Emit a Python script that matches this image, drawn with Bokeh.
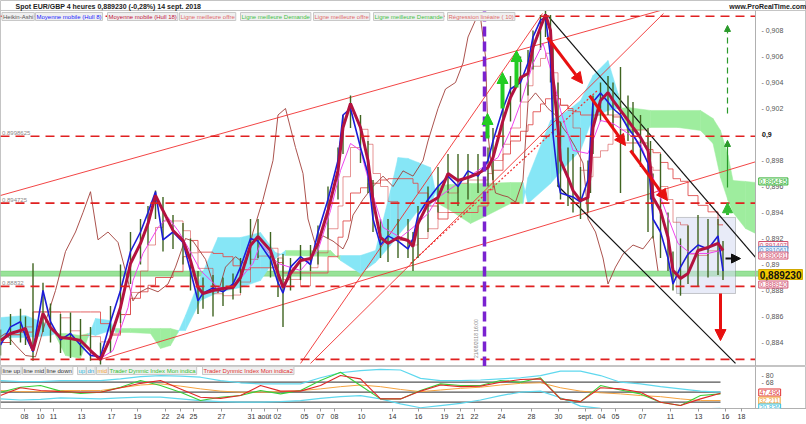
import numpy as np
from bokeh.plotting import figure
from bokeh.layouts import column
from bokeh.models import (Range1d, FixedTicker, CustomJSTickFormatter, Label, Span,
                          Arrow, NormalHead, BoxAnnotation)
from bokeh.embed import file_html
from bokeh.resources import INLINE

# ---------------- data (x = 4h bar index, y = EUR/GBP price) ----------------
hull_x = [0, 4, 8, 10, 13, 17, 20, 24, 28, 32,
          36, 40, 44, 48, 52, 56, 59, 62, 65, 69,
          73, 76, 79, 81, 85, 89, 93, 96, 100, 103,
          108, 111, 113, 116, 120, 124, 127, 131, 135, 137,
          140, 144, 147, 149, 152, 155, 159, 163, 165, 167,
          171, 175, 179, 183, 187, 191, 195, 197, 201, 204,
          208, 211, 213, 216, 218, 220, 221, 223, 224, 227,
          229, 232, 235, 236, 237, 240, 243, 245, 248, 251,
          253, 256, 259, 260, 261, 264, 267, 269, 272, 275,
          279, 283, 287, 289]
hull18 = [0.88415, 0.88469, 0.88492, 0.88508, 0.88338, 0.88623, 0.88515, 0.88438, 0.88431, 0.88415,
          0.88338, 0.88269, 0.88438, 0.88669, 0.89008, 0.89162, 0.89315, 0.89531, 0.89415, 0.89262,
          0.89185, 0.89031, 0.88823, 0.88777, 0.88800, 0.88815, 0.88823, 0.88900, 0.89146, 0.89215,
          0.89108, 0.88931, 0.88823, 0.88931, 0.89031, 0.89046, 0.89162, 0.89415, 0.89723, 0.90054,
          0.90238, 0.90054, 0.89800, 0.89492, 0.89208, 0.89162, 0.89208, 0.89185, 0.89139, 0.89315,
          0.89469, 0.89515, 0.89700, 0.89646, 0.89669, 0.89700, 0.89746, 0.89823, 0.90108, 0.90285,
          0.90438, 0.90469, 0.90669, 0.90823, 0.90923, 0.90800, 0.90438, 0.90054, 0.89800, 0.89669,
          0.89569, 0.89492, 0.89515, 0.89723, 0.90054, 0.90262, 0.90323, 0.90262, 0.90185, 0.90108,
          0.90054, 0.89977, 0.89877, 0.89746, 0.89515, 0.89415, 0.89208, 0.88954, 0.88892, 0.88931,
          0.89108, 0.89131, 0.89162, 0.89108]
hull8 = [0.88380, 0.88520, 0.88560, 0.88450, 0.88330, 0.88800, 0.88560, 0.88420, 0.88470, 0.88380,
         0.88300, 0.88290, 0.88560, 0.88800, 0.89100, 0.89250, 0.89400, 0.89560, 0.89190, 0.89250,
         0.89170, 0.88950, 0.88720, 0.88780, 0.88820, 0.88790, 0.88850, 0.88980, 0.89200, 0.89180,
         0.89040, 0.88860, 0.88780, 0.88980, 0.89060, 0.89000, 0.89250, 0.89500, 0.89800, 0.90150,
         0.90200, 0.89900, 0.89700, 0.89350, 0.89150, 0.89220, 0.89180, 0.89120, 0.89200, 0.89380,
         0.89500, 0.89600, 0.89680, 0.89600, 0.89720, 0.89680, 0.89800, 0.89950, 0.90200, 0.90350,
         0.90400, 0.90550, 0.90750, 0.90880, 0.90900, 0.90600, 0.90000, 0.89650, 0.89550, 0.89530,
         0.89520, 0.89480, 0.89650, 0.89950, 0.90250, 0.90320, 0.90250, 0.90200, 0.90150, 0.90050,
         0.90000, 0.89900, 0.89780, 0.89600, 0.89350, 0.89250, 0.89050, 0.88850, 0.88980, 0.89080,
         0.89150, 0.89120, 0.89220, 0.88950]
ha_high = [0.8850, 0.8862, 0.8866, 0.8860, 0.8901, 0.8886, 0.8870, 0.8862, 0.8863, 0.8858,
           0.8852, 0.8840, 0.8868, 0.8900, 0.8925, 0.8935, 0.8945, 0.8957, 0.8952, 0.8938,
           0.8932, 0.8920, 0.8895, 0.8890, 0.8892, 0.8890, 0.8893, 0.8905, 0.8935, 0.8935,
           0.8925, 0.8905, 0.8908, 0.8905, 0.8915, 0.8915, 0.8930, 0.8960, 0.8990, 0.9015,
           0.9030, 0.9015, 0.8995, 0.8965, 0.8935, 0.8935, 0.8935, 0.8935, 0.8925, 0.8945,
           0.8960, 0.8975, 0.8985, 0.8985, 0.8985, 0.8985, 0.8990, 0.9005, 0.9025, 0.9045,
           0.9060, 0.9065, 0.9080, 0.9092, 0.9095, 0.9092, 0.9070, 0.9040, 0.9010, 0.8990,
           0.8985, 0.8975, 0.8980, 0.9000, 0.9030, 0.9040, 0.9045, 0.9040, 0.9052, 0.9030,
           0.9025, 0.9015, 0.9005, 0.8995, 0.8970, 0.8985, 0.8940, 0.8910, 0.8920, 0.8930,
           0.8938, 0.8935, 0.8935, 0.8918]
ha_low = [0.8830, 0.8838, 0.8840, 0.8838, 0.8826, 0.8848, 0.8840, 0.8832, 0.8828, 0.8830,
          0.8826, 0.8823, 0.8832, 0.8855, 0.8885, 0.8900, 0.8915, 0.8935, 0.8910, 0.8912,
          0.8900, 0.8880, 0.8862, 0.8866, 0.8860, 0.8868, 0.8873, 0.8878, 0.8900, 0.8905,
          0.8890, 0.8875, 0.8852, 0.8880, 0.8888, 0.8895, 0.8900, 0.8920, 0.8950, 0.8985,
          0.9005, 0.8978, 0.8955, 0.8925, 0.8905, 0.8902, 0.8905, 0.8905, 0.8895, 0.8905,
          0.8925, 0.8940, 0.8955, 0.8945, 0.8950, 0.8955, 0.8960, 0.8965, 0.8990, 0.9010,
          0.9025, 0.9030, 0.9050, 0.9065, 0.9075, 0.9040, 0.9000, 0.8960, 0.8950, 0.8945,
          0.8940, 0.8935, 0.8940, 0.8955, 0.8985, 0.9010, 0.9015, 0.9005, 0.8955, 0.8995,
          0.8985, 0.8975, 0.8925, 0.8950, 0.8920, 0.8905, 0.8895, 0.8880, 0.8876, 0.8885,
          0.8883, 0.8890, 0.8892, 0.8888]
pink_x = [36, 40, 45, 51, 53, 57, 63, 67, 71, 75,
          80, 87, 93, 101, 104, 111, 120, 127, 132, 136,
          140, 144, 148, 153, 160, 165, 171, 175, 183, 191,
          199, 204, 208, 213, 217, 221, 224, 229, 235, 240,
          245, 251, 256, 261, 267, 271, 276, 283, 288]
pink = [0.88316, 0.88277, 0.88338, 0.88669, 0.88877, 0.89085, 0.89285, 0.89362, 0.89262, 0.89131,
        0.88954, 0.88823, 0.88823, 0.89008, 0.89162, 0.89008, 0.88954, 0.89108, 0.89415, 0.89723,
        0.89931, 0.89877, 0.89592, 0.89285, 0.89208, 0.89285, 0.89392, 0.89515, 0.89623, 0.89723,
        0.89823, 0.90031, 0.90239, 0.90546, 0.90700, 0.90439, 0.90185, 0.89877, 0.89854, 0.90108,
        0.90085, 0.90008, 0.89931, 0.89669, 0.89362, 0.89162, 0.89085, 0.89085, 0.89108]
cloud_x = [0, 10, 20, 22, 26, 32, 35, 38, 44, 46,
           52, 60, 64, 68, 71, 74, 80, 87, 96, 104,
           110, 114, 132, 136, 144, 150, 156, 159, 163, 167,
           172, 175, 180, 188, 193, 204, 209, 211, 220, 227,
           232, 237, 243, 247, 251, 260, 271, 280, 285, 288,
           291, 293, 298, 302]
span_a = [0.88439, 0.88439, 0.88454, 0.88469, 0.88469, 0.88454, 0.88469, 0.88454, 0.88492, 0.88508,
          0.88508, 0.88508, 0.88508, 0.88508, 0.88492, 0.88492, 0.88723, 0.88785, 0.88823, 0.88877,
          0.89046, 0.89108, 0.89108, 0.89031, 0.88931, 0.89016, 0.89146, 0.89223, 0.89315, 0.89415,
          0.89454, 0.89608, 0.89616, 0.89623, 0.89623, 0.89631, 0.89631, 0.89469, 0.89623, 0.89777,
          0.89877, 0.90131, 0.90185, 0.90200, 0.90208, 0.90185, 0.90185, 0.90185, 0.90123, 0.90031,
          0.89839, 0.89646, 0.89639, 0.89631]
span_b = [0.88592, 0.88608, 0.88531, 0.88454, 0.88300, 0.88277, 0.88439, 0.88585, 0.88569, 0.88477,
          0.88477, 0.88469, 0.88354, 0.88377, 0.88477, 0.88608, 0.88900, 0.89208, 0.89208, 0.89246,
          0.89092, 0.89069, 0.89062, 0.89069, 0.89069, 0.89108, 0.89569, 0.89823, 0.89816, 0.89785,
          0.89746, 0.89469, 0.89415, 0.89315, 0.89362, 0.89469, 0.89469, 0.89669, 0.90108, 0.90185,
          0.90262, 0.90454, 0.90569, 0.90316, 0.90008, 0.90054, 0.90054, 0.90031, 0.89931, 0.89669,
          0.89492, 0.89400, 0.89277, 0.89239]

levels = [0.90910, 0.8998625, 0.894725, 0.88832, 0.88270]
level_labels = ["", "0.8998625", "0.894725", "0.88832", ""]
support_band = [0.8891, 0.8895]

# trend lines: (x0, y0) -> (x1, y1)
red_x0 = [0, 40, 120, 124]
red_y0 = [0.89531, 0.88269, 0.88239, 0.88239]
red_x1 = [264, 302, 216.8, 265.2]
red_y1 = [0.90954, 0.89790, 0.90931, 0.90931]
dot_x0, dot_y0, dot_x1, dot_y1 = [164], [0.89008], [238.8], [0.90339]
blk_x0 = [218.8, 222.8]
blk_y0 = [0.90916, 0.89608]
blk_x1 = [302, 294]
blk_y1 = [0.89055, 0.88239]
event_x = 193.6
consol_box = [270.4, 294, 0.88777, 0.89362]  # left, right, bottom, top

red_arrows = [(218.8, 0.90746, 232.8, 0.90392), (235.6, 0.90300, 250, 0.89915),
              (252, 0.89877, 266.8, 0.89492), (288, 0.88777, 288, 0.88415)]
green_arrows = [(194.8, 0.89969, 194.8, 0.90162), (200.8, 0.90200, 200.8, 0.90477),
                (206.4, 0.90362, 206.4, 0.90646)]

last_price = 0.889230
axis_values = [(0.89639, "0,896435", "#2fae2f", "#2fae2f", "#f4fff4"),
               (0.89150, "0,891407", "#d0506e", "#d0506e", "#fff4f6"),
               (0.89110, "0,891061", "#4a8fd0", "#4a8fd0", "#f4f8ff"),
               (0.89069, "0,890691", "#d0506e", "#d0506e", "#fff4f6"),
               (0.88846, "0,888940", "#d0506e", "#d0506e", "#fff4f6")]

# indicator panel (Traders Dynamic Index)
ind_x = [0, 8, 16, 24, 32, 40, 48, 56, 64, 72, 80, 88, 96, 104, 112, 120, 128, 136, 144,
         152, 160, 168, 176, 184, 192, 200, 208, 216, 224, 232, 240, 248, 256, 264, 272, 280, 288]
tdi_green = [50, 59, 62, 52, 48, 50, 59, 71, 62, 50, 35, 41, 44, 53, 47, 53, 71, 86, 62, 38,
             38, 53, 65, 62, 62, 71, 68, 76, 38, 33, 62, 54, 47, 32, 26, 44, 47]
tdi_red = [44, 58, 53, 51, 50, 50, 58, 66, 71, 56, 41, 39, 44, 62, 52, 52, 62, 80, 74, 38,
           38, 52, 63, 60, 61, 68, 73, 74, 38, 33, 58, 56, 50, 32, 26, 38, 48]
tdi_mid = [53, 51, 51, 53, 53, 53, 58, 63, 65, 61, 56, 52, 50, 50, 51, 53, 56, 60, 63, 60,
           55, 51, 54, 57, 59, 63, 66, 67, 58, 52, 49, 47, 44, 42, 38, 35, 35]
tdi_up = [71, 69, 69, 71, 71, 71, 74, 78, 80, 79, 77, 71, 67, 65, 65, 65, 76, 85, 89, 91,
          90, 75, 71, 71, 72, 74, 76, 80, 88, 88, 80, 68, 65, 60, 56, 52, 50]
tdi_dn = [38, 36, 37, 40, 39, 38, 40, 41, 41, 38, 35, 33, 32, 32, 33, 35, 39, 42, 44, 38,
          29, 22, 26, 30, 36, 44, 50, 52, 40, 25, 21, 20, 20, 20, 20, 20, 21]
tdi_levels = [68, 50, 32]

date_ticks = [9.6, 16, 21.2, 32.4, 44.4, 54.8, 66, 72, 77.2, 88.4, 100.4, 105.6, 110.8, 121.6,
              128, 133.6, 144.4, 156.8, 167.2, 177.6, 184, 189.6, 200.4, 212.4, 223.2, 234,
              240.4, 246, 256.8, 268, 279.2, 290, 296.4]
date_labels = ["08", "10", "11", "13", "17", "19", "22", "24", "25", "27", "31", "août", "02",
               "05", "07", "08", "10", "14", "16", "19", "21", "22", "24", "28", "30", "sept.",
               "04", "05", "07", "11", "13", "16", "18"]

# ---------------- layout constants ----------------
FONT = "Liberation Sans"
X0, X1 = 0, 322.4          # full chart width incl. price-scale strip
PLOT_END = 302             # right edge of the price area (price-scale line)
Y0, Y1 = 0.882154, 0.910308  # full height incl. header strip
HEADER_LINE = 0.90954
ROUND_LEVEL = 0.9

p = figure(width=806, height=366, x_range=Range1d(X0, X1), y_range=Range1d(Y0, Y1),
           output_backend="svg", toolbar_location=None, x_axis_location=None,
           y_axis_location="right", min_border_top=0, min_border_bottom=0,
           min_border_left=0, min_border_right=0)
p.grid.visible = False
p.outline_line_color = "#c4c4c4"
p.background_fill_color = "white"
p.border_fill_color = "white"


def style_price_axis(a, ticks):
    a.ticker = FixedTicker(ticks=ticks)
    a.major_label_text_font_size = "7px"
    a.major_label_text_font = FONT
    a.major_label_text_color = "#555555"
    a.axis_line_color = None
    a.major_tick_line_color = None
    a.minor_tick_line_color = None
    a.major_label_standoff = -51


ax = p.yaxis[0]
style_price_axis(ax, [0.884, 0.886, 0.888, 0.890, 0.892, 0.894, 0.896,
                      0.898, 0.900, 0.902, 0.904, 0.906, 0.908])
ax.formatter = CustomJSTickFormatter(
    args=dict(bold=ROUND_LEVEL),
    code="if (Math.abs(tick - bold) < 1e-9) { return '-'; } "
         "return '- ' + tick.toFixed(3).replace('.', ',').replace(/0+$/, '');")

# Ichimoku cloud
cx = np.array(cloud_x, float)
ca = np.array(span_a)
cb = np.array(span_b)
gx, gy, kx, ky = [], [], [], []
for i in range(len(cx) - 1):
    xs = [cx[i], cx[i + 1], cx[i + 1], cx[i]]
    ys = [ca[i], ca[i + 1], cb[i + 1], cb[i]]
    if ca[i] + ca[i + 1] >= cb[i] + cb[i + 1]:
        gx.append(xs); gy.append(ys)
    else:
        kx.append(xs); ky.append(ys)
p.patches(gx, gy, fill_color="#9eed9e", line_color="#9eed9e", line_width=0.5)
p.patches(kx, ky, fill_color="#86e6f6", line_color="#86e6f6", line_width=0.5)

p.add_layout(BoxAnnotation(left=X0, right=PLOT_END + 2, bottom=support_band[0], top=support_band[1],
                           fill_color="#86dd86", fill_alpha=0.85, line_color="#4cbb4c",
                           line_width=1, level="underlay"))
p.add_layout(BoxAnnotation(left=consol_box[0], right=consol_box[1], bottom=consol_box[2],
                           top=consol_box[3], fill_color="#d6dbf3", fill_alpha=0.55,
                           line_color="#555555", line_width=1, level="underlay"))

# derived Ichimoku lines
hx = np.array(hull_x, float)
hh = np.array(ha_high)
hl = np.array(ha_low)


def donchian_mid(n):
    out = []
    for xi in hx:
        m = (hx <= xi) & (hx > xi - n)
        out.append((hh[m].max() + hl[m].min()) / 2)
    return out


p.step(hx, donchian_mid(26), mode="after", line_color="#e05050", line_width=0.9)
p.step(hx, donchian_mid(9), mode="after", line_color="#d44040", line_width=0.7, line_alpha=0.8)
p.line(hx - 26, hull8, line_color="#a2403a", line_width=0.9)

# trend lines
p.segment(red_x0, red_y0, red_x1, red_y1, line_color="#f03030", line_width=0.9)
p.segment(dot_x0, dot_y0, dot_x1, dot_y1, line_color="#f03030", line_width=1.2, line_dash="2 2")
p.segment(blk_x0, blk_y0, blk_x1, blk_y1, line_color="#111111", line_width=1.2)

# price
p.segment(hull_x, ha_low, hull_x, ha_high, line_color="#3f6420", line_width=1.4)
p.line(pink_x, pink, line_color="#ee44ee", line_width=1)
p.line(hull_x, hull8, line_color="#1c1cd8", line_width=1.6)
p.line(hull_x, hull18, line_color="#b3123f", line_width=3)

# horizontal levels
p.segment([X0] * len(levels), levels, [PLOT_END] * len(levels), levels,
          line_color="#e02020", line_width=1.6, line_dash="9 6")
for lv, lt in zip(levels, level_labels):
    if lt:
        p.add_layout(Label(x=0.6, y=lv, text=lt, text_font=FONT, text_font_size="6px",
                           text_color="#8a8a8a", text_baseline="bottom", y_offset=1))

p.segment([event_x], [Y0], [event_x], [HEADER_LINE], line_color="#7a22d0",
          line_width=3.5, line_dash="10 5")
p.add_layout(Label(x=event_x - 2.2, y=0.8828, text="21/08/2018 16:00", angle=np.pi / 2,
                   text_font=FONT, text_font_size="5px", text_color="#888888"))

for (xs, ys, xe, ye) in red_arrows:
    p.add_layout(Arrow(x_start=xs, y_start=ys, x_end=xe, y_end=ye, line_color="#e81010",
                       line_width=3, end=NormalHead(size=11, fill_color="#e81010",
                                                   line_color="#e81010")))
for (xs, ys, xe, ye) in green_arrows:
    p.add_layout(Arrow(x_start=xs, y_start=ys, x_end=xe, y_end=ye, line_color="#22cc22",
                       line_width=4, end=NormalHead(size=11, fill_color="#22cc22",
                                                   line_color="#22cc22")))
p.add_layout(Arrow(x_start=290.8, y_start=0.90162, x_end=290.8, y_end=0.90839,
                   line_color="#2a9a2a", line_width=1.2, line_dash="6 4",
                   end=NormalHead(size=6, fill_color="#2a9a2a", line_color="#2a9a2a")))
p.add_layout(Arrow(x_start=290.8, y_start=0.89592, x_end=290.8, y_end=0.89954,
                   line_color="#2a9a2a", line_width=1.2,
                   end=NormalHead(size=6, fill_color="#2a9a2a", line_color="#2a9a2a")))
p.add_layout(Arrow(x_start=290.8, y_start=0.89380, x_end=290.8, y_end=0.89475,
                   line_color="#33bb33", line_width=3,
                   end=NormalHead(size=10, fill_color="#33bb33", line_color="#33bb33")))
p.add_layout(Arrow(x_start=290.0, y_start=0.89046, x_end=296.0, y_end=0.89046,
                   line_color="#111111", line_width=2,
                   end=NormalHead(size=9, fill_color="#111111", line_color="#111111")))

# frame lines of the price area (header rule and price-scale line)
p.segment([X0], [HEADER_LINE], [X1], [HEADER_LINE], line_color="#c4c4c4", line_width=1)
p.segment([PLOT_END], [Y0], [PLOT_END], [HEADER_LINE], line_color="#b0b0b0", line_width=1)

# legend boxes
legend_items = [("Heikin-Ashi", "#555555", 0.6), ("Moyenne mobile (Hull 8)", "#2020ff", 14),
                ("Moyenne mobile (Hull 18)", "#c0143c", 42.8),
                ("Ligne meilleure offre", "#e06a6a", 71.6),
                ("Ligne meilleure Demande", "#45c045", 96),
                ("Ligne meilleure offre", "#e06a6a", 125.2),
                ("Ligne meilleure Demande", "#45c045", 149.2),
                ("Régression linéaire ( 10)", "#e06a6a", 178.8)]
for txt, col, xx in legend_items:
    p.add_layout(Label(x=xx, y=0.909077, text=txt, text_font=FONT, text_font_size="6px",
                       text_color=col, text_baseline="middle", background_fill_color="#f0f0f0",
                       border_line_color="#c8c8c8", border_line_width=1, padding=1))

# header
p.add_layout(Label(x=6, y=0.909846, text="Spot EUR/GBP   4 heures   0,889230 (-0,28%)   14 sept. 2018",
                   text_font=FONT, text_font_size="7px", text_font_style="bold",
                   text_color="#222222", text_baseline="middle"))
p.add_layout(Label(x=291.5, y=0.909846, text="www.ProRealTime.com", text_font=FONT,
                   text_font_size="7px", text_font_style="bold", text_color="#222222",
                   text_baseline="middle"))

# bold round-number price label
p.add_layout(Label(x=304.6, y=ROUND_LEVEL, text="0,9", text_font=FONT, text_font_size="7px",
                   text_font_style="bold", text_color="#111111", text_baseline="middle"))

# price-scale value boxes
for yv, txt, tc, bc, bg in axis_values:
    p.add_layout(Label(x=303.3, y=yv, text=txt, text_font=FONT, text_font_size="6.5px",
                       text_color=tc, text_baseline="middle", background_fill_color=bg,
                       border_line_color=bc, border_line_width=1, padding=1))
p.add_layout(Label(x=303.3, y=last_price, text="0,889230", text_font=FONT, text_font_size="10px",
                   text_font_style="bold", text_color="#111111", text_baseline="middle",
                   background_fill_color="#f2c800", border_line_color="#d0a800", padding=1))

# ---------------- indicator ----------------
q = figure(width=806, height=58, x_range=p.x_range, y_range=Range1d(20.7, 96.3),
           output_backend="svg", toolbar_location=None, y_axis_location="right",
           min_border_top=0, min_border_bottom=16, min_border_left=0, min_border_right=0)
q.grid.visible = False
q.outline_line_color = "#c4c4c4"
q.segment([0] * 3, tdi_levels, [ind_x[-1]] * 3, tdi_levels, line_color="#555555", line_width=1.3)
q.line(ind_x, tdi_up, line_color="#5fd8ee", line_width=1.2)
q.line(ind_x, tdi_dn, line_color="#5fd8ee", line_width=1.2)
q.line(ind_x, tdi_mid, line_color="#f5a340", line_width=1)
q.line(ind_x, tdi_green, line_color="#38d038", line_width=1.1)
q.line(ind_x, tdi_red, line_color="#e02828", line_width=1.1)
q.add_layout(Span(location=PLOT_END, dimension="height", line_color="#b0b0b0", line_width=1))

qa = q.yaxis[0]
style_price_axis(qa, [80, 68])
qa.formatter = CustomJSTickFormatter(code="return '- ' + tick.toFixed(0);")

xa = q.xaxis[0]
xa.ticker = FixedTicker(ticks=date_ticks)
xa.formatter = CustomJSTickFormatter(
    args=dict(t=date_ticks, l=date_labels),
    code="const i = t.findIndex(v => Math.abs(v - tick) < 0.01); return i >= 0 ? l[i] : '';")
xa.major_label_text_font_size = "7px"
xa.major_label_text_font = FONT
xa.major_label_text_color = "#333333"
xa.axis_line_color = "#b0b0b0"
xa.major_tick_line_color = "#999999"
xa.major_tick_in = 0
xa.major_tick_out = 3
xa.minor_tick_line_color = None
xa.major_label_standoff = 1

ind_legend = [("line up", "#333333", 0.4), ("line mid", "#333333", 8.8),
              ("line down", "#333333", 18), ("up", "#30c0e0", 30.8), ("dn", "#30a8d8", 34.4),
              ("mid", "#f0a030", 38.4), ("Trader Dynmic Index Mon indica", "#30c030", 43.2),
              ("Trader Dynmic Index Mon indica2", "#e03030", 80.8)]
for txt, col, xx in ind_legend:
    q.add_layout(Label(x=xx, y=89, text=txt, text_font=FONT, text_font_size="6px",
                       text_color=col, text_baseline="middle", background_fill_color="#f0f0f0",
                       border_line_color="#c8c8c8", border_line_width=1, padding=1))

ind_values = [(49.5, "47,496", "#e03030"), (35, "32,211", "#f0a030"), (22.5, "20,836", "#30c0e0")]
for yv, txt, col in ind_values:
    q.add_layout(Label(x=303.3, y=yv, text=txt, text_font=FONT, text_font_size="6.5px",
                       text_color=col, text_baseline="middle", background_fill_color="white",
                       border_line_color=col, border_line_width=1, padding=1))

layout = column(p, q, spacing=0)
open("out.html", "w").write(file_html(layout, INLINE))
